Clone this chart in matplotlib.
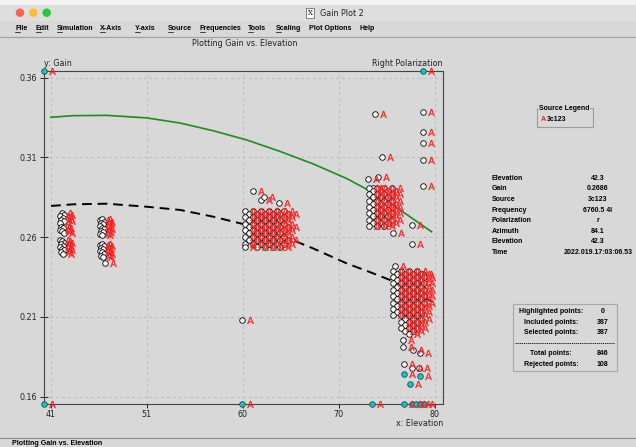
import matplotlib.pyplot as plt
from matplotlib.patches import Rectangle, Ellipse
from matplotlib.lines import Line2D
from matplotlib.transforms import offset_copy

W, H = 636, 447
BG = '#d8d8d8'

# fitted curves (x = elevation, y = gain)
curve_x = [41.03, 43.28, 46.65, 50.69, 54.05, 57.38, 60.78, 64.15, 67.48, 70.88, 73.53, 76.26, 79.46]
fit_solid = [0.3352, 0.3362, 0.3364, 0.3348, 0.3316, 0.3268, 0.3210, 0.3138, 0.3060, 0.2968, 0.2880, 0.2772, 0.2634]
fit_dashed = [0.2796, 0.2806, 0.2810, 0.2791, 0.2771, 0.2729, 0.2677, 0.2614, 0.2530, 0.2436, 0.2374, 0.2307, 0.2197]

# measured points, grouped by scan
scan_42 = [(42.1, 0.2751), (42.3, 0.2740), (41.9, 0.2732), (42.2, 0.2720), (42.0, 0.2708), (42.3, 0.2700),
           (41.9, 0.2690), (42.0, 0.2664), (42.2, 0.2655), (41.9, 0.2645), (42.1, 0.2636), (42.3, 0.2626),
           (41.9, 0.2582), (42.1, 0.2575), (42.3, 0.2565), (42.0, 0.2555), (42.2, 0.2546), (41.9, 0.2537),
           (42.1, 0.2525), (42.3, 0.2517), (42.0, 0.2506), (42.2, 0.2495)]
scan_46 = [(46.0, 0.2705), (46.2, 0.2712), (46.4, 0.2698), (46.1, 0.2688), (46.3, 0.2680), (46.0, 0.2668),
           (46.2, 0.2660), (46.4, 0.2650), (46.1, 0.2640), (46.3, 0.2630), (46.0, 0.2620), (46.2, 0.2612),
           (46.0, 0.2552), (46.2, 0.2558), (46.4, 0.2545), (46.1, 0.2535), (46.3, 0.2525), (46.0, 0.2515),
           (46.2, 0.2505), (46.4, 0.2495), (46.1, 0.2485), (46.3, 0.2475), (46.5, 0.2438)]
scan_62 = [(61.39, 0.2891), (62.20, 0.2833), (62.53, 0.2854), (64.04, 0.2813), (60.28, 0.2081),
           (60.6, 0.2764), (61.4, 0.2764), (62.2, 0.2764), (63.0, 0.2764), (63.8, 0.2764), (64.6, 0.2764),
           (61.0, 0.2745), (61.8, 0.2745), (62.6, 0.2745), (63.4, 0.2745), (64.2, 0.2745), (65.0, 0.2745),
           (60.6, 0.2725), (61.4, 0.2725), (62.2, 0.2725), (63.0, 0.2725), (63.8, 0.2725), (64.6, 0.2725),
           (61.0, 0.2705), (61.8, 0.2705), (62.6, 0.2705), (63.4, 0.2705), (64.2, 0.2705),
           (60.6, 0.2685), (61.4, 0.2685), (62.2, 0.2685), (63.0, 0.2685), (63.8, 0.2685), (64.6, 0.2685),
           (61.0, 0.2665), (61.8, 0.2665), (62.6, 0.2665), (63.4, 0.2665), (64.2, 0.2665), (65.0, 0.2665),
           (60.6, 0.2645), (61.4, 0.2645), (62.2, 0.2645), (63.0, 0.2645), (63.8, 0.2645), (64.6, 0.2645),
           (61.0, 0.2625), (61.8, 0.2625), (62.6, 0.2625), (63.4, 0.2625), (64.2, 0.2625),
           (60.6, 0.2600), (61.4, 0.2600), (62.2, 0.2600), (63.0, 0.2600), (63.8, 0.2600), (64.6, 0.2600),
           (61.0, 0.2580), (61.8, 0.2580), (62.6, 0.2580), (63.4, 0.2580), (64.2, 0.2580), (65.0, 0.2580),
           (60.6, 0.2560), (61.4, 0.2560), (62.2, 0.2560), (63.0, 0.2560), (63.8, 0.2560), (64.6, 0.2560),
           (60.6, 0.2540), (61.8, 0.2540), (62.6, 0.2540), (63.4, 0.2540), (64.2, 0.2540)]
scan_74 = [(73.73, 0.3371), (74.41, 0.3100), (73.06, 0.2963), (74.07, 0.2976), (73.53, 0.2907),
           (73.1, 0.2910), (73.9, 0.2910), (74.7, 0.2910), (75.5, 0.2910),
           (73.5, 0.2890), (74.3, 0.2890), (75.1, 0.2890),
           (73.1, 0.2870), (73.9, 0.2870), (74.7, 0.2870), (75.5, 0.2870),
           (73.5, 0.2850), (74.3, 0.2850), (75.1, 0.2850),
           (73.1, 0.2830), (73.9, 0.2830), (74.7, 0.2830), (75.5, 0.2830),
           (73.5, 0.2810), (74.3, 0.2810), (75.1, 0.2810),
           (73.1, 0.2790), (73.9, 0.2790), (74.7, 0.2790), (75.5, 0.2790),
           (73.5, 0.2770), (74.3, 0.2770), (75.1, 0.2770),
           (73.1, 0.2750), (73.9, 0.2750), (74.7, 0.2750), (75.5, 0.2750),
           (73.5, 0.2730), (74.3, 0.2730), (75.1, 0.2730),
           (73.1, 0.2710), (73.9, 0.2710), (74.7, 0.2710), (75.5, 0.2710),
           (73.5, 0.2690), (74.3, 0.2690), (75.1, 0.2690),
           (73.1, 0.2670), (73.9, 0.2670), (74.7, 0.2670), (75.58, 0.2628)]
scan_79_high = [(78.61, 0.3387), (78.61, 0.3258), (78.61, 0.3189), (78.61, 0.3084), (78.61, 0.2921),
                (77.44, 0.2676), (77.44, 0.2557), (75.75, 0.2421), (78.61, 0.2369)]
scan_77 = [(75.6, 0.2390), (76.4, 0.2390), (77.2, 0.2390), (78.0, 0.2390),
           (76.0, 0.2370), (76.8, 0.2370), (77.6, 0.2370), (78.4, 0.2370),
           (75.6, 0.2350), (76.4, 0.2350), (77.2, 0.2350), (78.0, 0.2350), (78.7, 0.2350),
           (76.0, 0.2330), (76.8, 0.2330), (77.6, 0.2330), (78.4, 0.2330),
           (75.6, 0.2310), (76.4, 0.2310), (77.2, 0.2310), (78.0, 0.2310), (78.7, 0.2310),
           (76.0, 0.2290), (76.8, 0.2290), (77.6, 0.2290), (78.4, 0.2290),
           (75.6, 0.2270), (76.4, 0.2270), (77.2, 0.2270), (78.0, 0.2270), (78.7, 0.2270),
           (76.0, 0.2250), (76.8, 0.2250), (77.6, 0.2250), (78.4, 0.2250),
           (75.6, 0.2230), (76.4, 0.2230), (77.2, 0.2230), (78.0, 0.2230), (78.7, 0.2230),
           (76.0, 0.2210), (76.8, 0.2210), (77.6, 0.2210), (78.4, 0.2210),
           (75.6, 0.2190), (76.4, 0.2190), (77.2, 0.2190), (78.0, 0.2190), (78.7, 0.2190),
           (76.0, 0.2170), (76.8, 0.2170), (77.6, 0.2170), (78.4, 0.2170),
           (75.6, 0.2150), (76.4, 0.2150), (77.2, 0.2150), (78.0, 0.2150),
           (76.0, 0.2130), (76.8, 0.2130), (77.6, 0.2130), (78.4, 0.2130),
           (75.6, 0.2110), (76.4, 0.2110), (77.2, 0.2110), (78.0, 0.2110),
           (76.8, 0.2090), (77.6, 0.2090), (78.4, 0.2090),
           (76.4, 0.2070), (77.2, 0.2070), (78.0, 0.2070),
           (76.8, 0.2050), (77.6, 0.2050),
           (76.4, 0.2030), (77.2, 0.2030), (78.0, 0.2030),
           (76.8, 0.2010), (77.6, 0.2010), (77.2, 0.1990),
           (76.56, 0.1955), (76.56, 0.1912), (77.57, 0.1893), (78.27, 0.1874),
           (76.66, 0.1805), (77.44, 0.1780), (78.18, 0.1780)]

# highlighted points inside the plot, and points clipped to the top / bottom edge
flagged = [(76.69, 0.1740), (78.27, 0.1730), (77.27, 0.1680)]
offscale_top_x = [40.32, 78.58]
offscale_bottom_x = [40.32, 60.28, 73.46, 76.66, 77.5, 77.9, 78.3, 78.7]

x_ticks = [41.0, 50.7, 60.4, 70.1, 79.8]
x_labels = ['41', '51', '60', '70', '80']
y_ticks = [0.16, 0.21, 0.26, 0.31, 0.36]
y_labels = ['0.16', '0.21', '0.26', '0.31', '0.36']

menu_items = [('File', 15, True), ('Edit', 36, True), ('Simulation', 57, True), ('X-Axis', 100, True),
              ('Y-axis', 135, True), ('Source', 168, True), ('Frequencies', 200, True), ('Tools', 248, True),
              ('Scaling', 276, True), ('Plot Options', 309, False), ('Help', 359, False)]
info_labels = ['Elevation', 'Gain', 'Source', 'Frequency', 'Polarization', 'Azimuth', 'Elevation', 'Time']
info_values = ['42.3', '0.2686', '3c123', '6760.5 4l', 'r', '84.1', '42.3', '2022.019.17:03:06.53']
stat_labels = ['Highlighted points:', 'Included points:', 'Selected points:', 'Total points:', 'Rejected points:']
stat_values = ['0', '387', '387', '846', '108']

fig = plt.figure(figsize=(W / 100, H / 100), dpi=100, facecolor=BG)


def fx(px):
    return px / W


def fy(py):
    return 1 - py / H


def ftext(px, py, s, **kw):
    kw.setdefault('va', 'center')
    return fig.text(fx(px), fy(py), s, **kw)


def frect(x0, y0, x1, y1, **kw):
    fig.add_artist(Rectangle((fx(x0), fy(y1)), fx(x1) - fx(x0), fy(y0) - fy(y1),
                             transform=fig.transFigure, **kw))


def fline(x0, y0, x1, y1, **kw):
    fig.add_artist(Line2D([fx(x0), fx(x1)], [fy(y0), fy(y1)], transform=fig.transFigure, **kw))


# window chrome
frect(0, 0, W, 5, facecolor='#f3f3f3', edgecolor='none')
frect(0, 5, W, 21, facecolor='#dedede', edgecolor='none')
for cx, col in [(20, '#fc5f57'), (33.3, '#fdbc2e'), (46.7, '#28c840')]:
    fig.add_artist(Ellipse((fx(cx), fy(12.7)), 8.5 / W, 8.5 / H, transform=fig.transFigure,
                           facecolor=col, edgecolor='none'))
ftext(310, 13, 'X', fontsize=5, ha='center', family='DejaVu Serif',
      bbox=dict(boxstyle='square,pad=0.15', facecolor='white', edgecolor='#555555', lw=0.5))
ftext(320, 13, 'Gain Plot 2', fontsize=5.8, color='#222222')

bold = dict(family='Liberation Sans', fontweight='bold', fontsize=5.1)
for name, px, underline in menu_items:
    t = ftext(px, 28, name, **bold)
    if underline:
        fline(px, 31.5, px + 4.5, 31.5, color='black', lw=0.5)
fline(0, 37.3, W, 37.3, color='#a0a0a0', lw=0.8)
fline(0, 437.7, W, 437.7, color='#8c8c8c', lw=0.8)
ftext(12, 443.3, 'Plotting Gain vs. Elevation', **bold)

ftext(245, 44, 'Plotting Gain vs. Elevation', fontsize=5.8, ha='center', color='#222222')
ftext(44, 63, 'y: Gain', fontsize=5.8, color='#222222')
ftext(443, 63, 'Right Polarization', fontsize=5.8, ha='right', color='#222222')
ftext(443, 423, 'x: Elevation', fontsize=5.8, ha='right', color='#222222')

# plot area
ax = fig.add_axes([fx(43.7), fy(404), fx(442.7) - fx(43.7), fy(70.7) - fy(404)])
ax.set_facecolor(BG)
ax.set_xlim(40.29, 80.58)
ax.set_ylim(0.1554, 0.3644)
ax.set_xticks(x_ticks, x_labels)
ax.set_yticks(y_ticks, y_labels)
ax.tick_params(axis='x', direction='out', length=3, width=0.7, labelsize=5.8, pad=1.5, colors='#222222')
ax.tick_params(axis='y', direction='inout', length=6, width=0.7, labelsize=5.8, pad=1.5, colors='#222222')
ax.grid(True, color='#bcbcbc', linestyle=(0, (3, 3)), linewidth=0.7)
ax.set_axisbelow(True)
for sp in ax.spines.values():
    sp.set_color('#444444')
    sp.set_linewidth(0.8)

ax.plot(curve_x, fit_solid, color='#1e8c1e', lw=1.2, zorder=2)
ax.plot(curve_x, fit_dashed, color='black', lw=1.4, ls=(0, (5, 3)), zorder=2)

a_trans = offset_copy(ax.transData, fig=fig, x=8, y=0, units='dots')
a_style = dict(ls='none', marker=r'$\mathsf{A}$', ms=5, color='#ff1f1f', mec='#ff1f1f', mew=0.2)
dot_style = dict(ls='none', marker='o', ms=4, mfc='white', mec='black', mew=0.6)

for group in [scan_42, scan_46, scan_62, scan_74, scan_79_high, scan_77]:
    xs = [p[0] for p in group]
    ys = [p[1] for p in group]
    ax.plot(xs, ys, zorder=3, **dot_style)
    ax.plot(xs, ys, transform=a_trans, zorder=4, **a_style)

cyan = dict(ls='none', marker='o', ms=4, mfc='#1cc4c4', mec='#0b4f4f', mew=0.6)
fxs = [p[0] for p in flagged]
fys = [p[1] for p in flagged]
ax.plot(fxs, fys, zorder=3, **cyan)
ax.plot(fxs, fys, transform=a_trans, zorder=4, **a_style)
top = [0.3644] * len(offscale_top_x)
bot = [0.1554] * len(offscale_bottom_x)
ax.plot(offscale_top_x, top, zorder=5, clip_on=False, **cyan)
ax.plot(offscale_top_x, top, transform=a_trans, zorder=5, clip_on=False, **a_style)
ax.plot(offscale_bottom_x, bot, zorder=5, clip_on=False, **cyan)
ax.plot(offscale_bottom_x, bot, transform=a_trans, zorder=5, clip_on=False, **a_style)

# source legend
small = dict(family='Liberation Sans', fontweight='bold', fontsize=5)
frect(536.7, 107.7, 592.7, 126.7, facecolor='none', edgecolor='#9c9c9c', lw=0.8)
ftext(564, 108, 'Source Legend', ha='center',
      bbox=dict(boxstyle='square,pad=0.1', facecolor=BG, edgecolor='none'), **small)
ftext(540.7, 119.5, 'A', color='#ff1f1f', **small)
ftext(546.7, 119.5, '3c123', **small)

# point info
info_rows = [178.3, 189, 199.7, 210.3, 221, 231.7, 242, 252.7]
for py, lab, val in zip(info_rows, info_labels, info_values):
    ftext(491.7, py, lab, **small)
    ftext(598, py, val, ha='center', **small)

# point statistics
frect(512.7, 304, 617.3, 370.7, facecolor='none', edgecolor='#a8a8a8', lw=0.8)
stat_rows = [311.7, 322.3, 332.7, 353.3, 364]
for py, lab, val in zip(stat_rows, stat_labels, stat_values):
    ftext(551, py, lab, ha='center', **small)
    ftext(602.7, py, val, ha='center', **small)
fline(515, 343.3, 615, 343.3, color='black', lw=0.6, ls=(0, (1.5, 1)))

fig.savefig('out.png', dpi=100, facecolor=BG)
